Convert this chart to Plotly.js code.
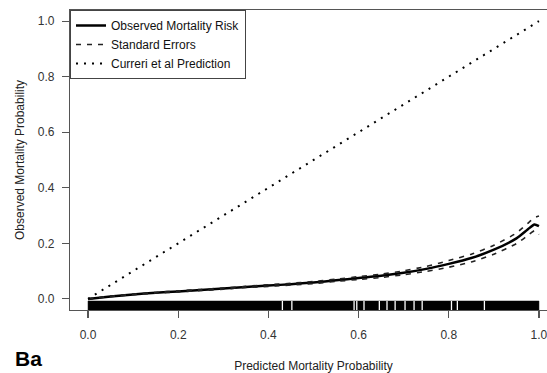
<!DOCTYPE html>
<html>
<head>
<meta charset="utf-8">
<script src="https://cdn.plot.ly/plotly-3.0.1.min.js"></script>
<style>
html, body { margin: 0; padding: 0; overflow: hidden; background: #fff; }
#chart { width: 560px; height: 373px; }
</style>
</head>
<body>
<div id="chart"></div>
<script>
// ---- data ----
var predicted = [0, 0.05, 0.1, 0.15, 0.2, 0.25, 0.3, 0.35, 0.4, 0.45, 0.5, 0.55, 0.6, 0.65, 0.7, 0.75, 0.8, 0.85, 0.9, 0.95, 0.975, 0.99, 1.0];
var observedRisk = [0.000, 0.009, 0.016, 0.022, 0.027, 0.032, 0.037, 0.043, 0.048, 0.053, 0.059, 0.067, 0.075, 0.083, 0.094, 0.108, 0.126, 0.147, 0.177, 0.218, 0.250, 0.268, 0.262];
var upperSE = [0.000, 0.010, 0.017, 0.023, 0.029, 0.034, 0.039, 0.045, 0.051, 0.056, 0.063, 0.071, 0.080, 0.089, 0.101, 0.117, 0.138, 0.161, 0.193, 0.237, 0.272, 0.292, 0.298];
var lowerSE = [0.000, 0.008, 0.015, 0.021, 0.025, 0.030, 0.035, 0.041, 0.045, 0.050, 0.055, 0.063, 0.070, 0.077, 0.087, 0.099, 0.114, 0.133, 0.161, 0.199, 0.228, 0.245, 0.232];
var curreriX = [0, 1];
var curreriY = [0, 1];
var rugRange = [0, 1];
var rugGaps = [0.431, 0.452, 0.590, 0.596, 0.612, 0.646, 0.663, 0.681, 0.703, 0.723, 0.741, 0.806, 0.819, 0.879];
var tickVals = [0, 0.2, 0.4, 0.6, 0.8, 1.0];
var tickText = ['0.0', '0.2', '0.4', '0.6', '0.8', '1.0'];

// ---- rug geometry (R rug: ticksize 3% of plot height from bottom edge) ----
var yRange = [-0.04, 1.04];
var rugBottom = yRange[0];
var rugTop = yRange[0] + 0.03 * (yRange[1] - yRange[0]);

var gapX = [], gapY = [];
rugGaps.forEach(function (g) { gapX.push(g, g, null); gapY.push(rugBottom, rugTop, null); });

var FONT = '"Liberation Sans", Arial, Helvetica, sans-serif';

var traces = [
  { x: predicted, y: observedRisk, type: 'scatter', mode: 'lines', name: 'Observed Mortality Risk',
    line: { color: '#000', width: 2.5, shape: 'spline', smoothing: 0.6 } },
  { x: predicted, y: upperSE, type: 'scatter', mode: 'lines', name: 'Standard Errors',
    line: { color: '#222', width: 1.6, dash: '5px,6px', shape: 'spline', smoothing: 0.6 } },
  { x: predicted, y: lowerSE, type: 'scatter', mode: 'lines', name: 'Standard Errors', showlegend: false,
    line: { color: '#222', width: 1.6, dash: '5px,6px', shape: 'spline', smoothing: 0.6 } },
  { x: curreriX, y: curreriY, type: 'scatter', mode: 'lines', name: 'Curreri et al Prediction',
    line: { color: '#000', width: 2, dash: '2px,6px' } },
  { x: [rugRange[0], rugRange[1], rugRange[1], rugRange[0], rugRange[0]],
    y: [rugBottom, rugBottom, rugTop, rugTop, rugBottom],
    type: 'scatter', mode: 'lines', fill: 'toself', fillcolor: '#000',
    line: { color: '#000', width: 0.5 }, showlegend: false, hoverinfo: 'skip' },
  { x: gapX, y: gapY, type: 'scatter', mode: 'lines',
    line: { color: '#fff', width: 1.3 }, showlegend: false, hoverinfo: 'skip' }
];

var axisCommon = {
  showgrid: false, zeroline: false, showline: true, mirror: true,
  linecolor: '#555', linewidth: 1.2,
  ticks: 'outside', ticklen: 7, tickwidth: 1.2, tickcolor: '#555',
  tickvals: tickVals, ticktext: tickText,
  tickfont: { family: FONT, size: 12, color: '#333' }
};

var layout = {
  width: 560, height: 373,
  margin: { l: 70, r: 3, t: 10, b: 63 },
  paper_bgcolor: '#fff', plot_bgcolor: '#fff',
  font: { family: FONT, size: 12, color: '#222' },
  xaxis: Object.assign({}, axisCommon, {
    range: [-0.04, 1.04],
    ticklabelstandoff: 6,
    title: { text: 'Predicted Mortality Probability', font: { family: FONT, size: 12, color: '#222' }, standoff: 22 }
  }),
  yaxis: Object.assign({}, axisCommon, {
    range: yRange,
    ticklabelstandoff: 5,
    title: { text: 'Observed Mortality Probability', font: { family: FONT, size: 12, color: '#222' }, standoff: 10 }
  }),
  showlegend: true,
  legend: {
    x: 0, y: 1, xanchor: 'left', yanchor: 'top',
    bgcolor: '#fff', bordercolor: '#444', borderwidth: 1,
    font: { family: FONT, size: 12, color: '#111' },
    itemwidth: 30, tracegroupgap: 0
  },
  annotations: [
    { text: '<b>Ba</b>', xref: 'paper', yref: 'paper', x: -0.117, y: -0.16,
      xanchor: 'left', yanchor: 'middle', showarrow: false,
      font: { family: FONT, size: 21, color: '#000' } }
  ]
};

Plotly.newPlot('chart', traces, layout, { displayModeBar: false, staticPlot: true });
</script>
</body>
</html>
